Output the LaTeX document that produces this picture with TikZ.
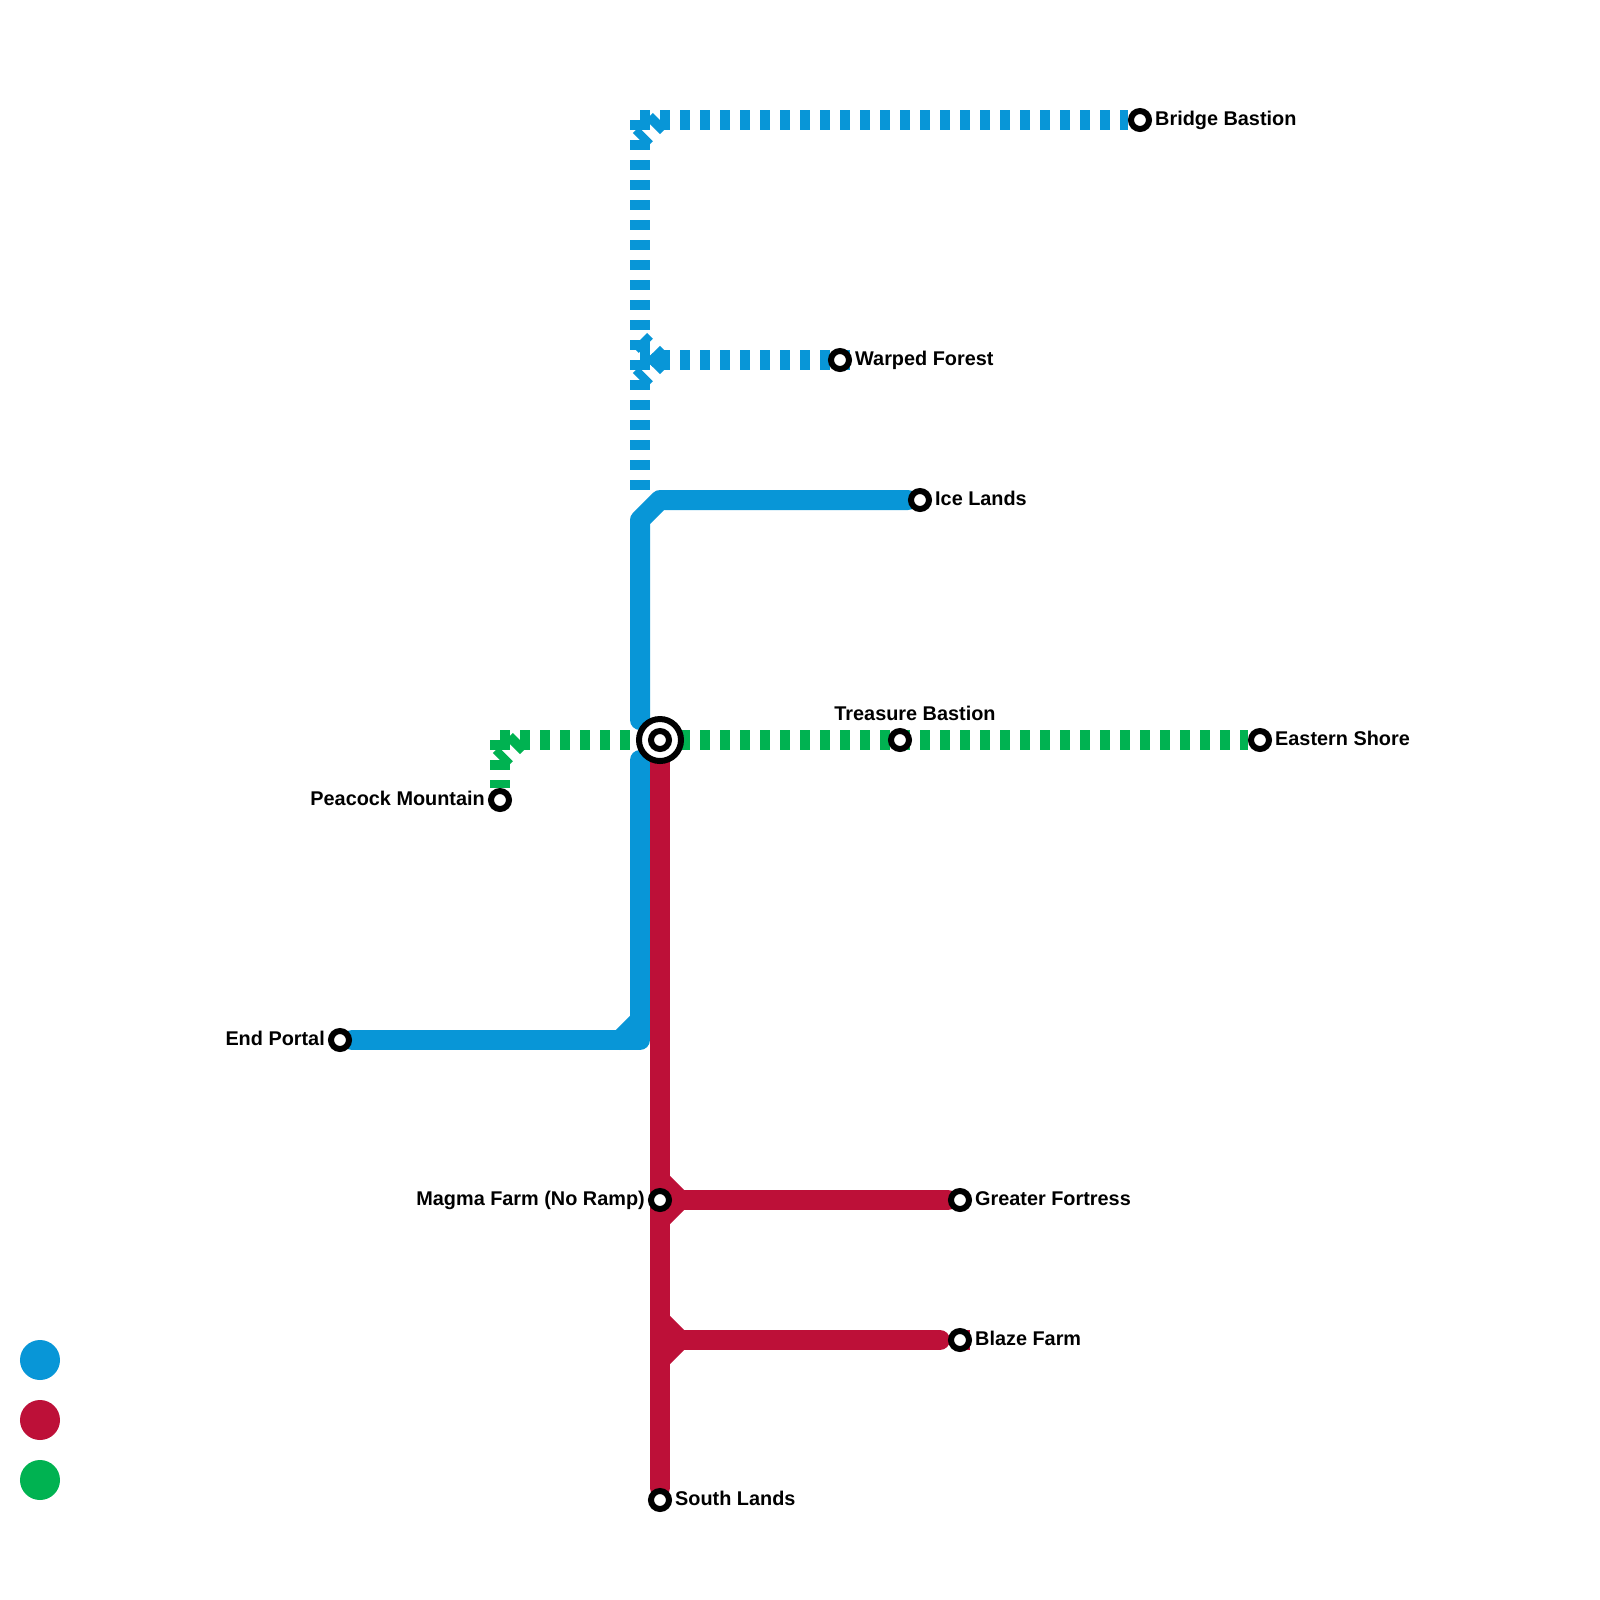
\documentclass[tikz,border=0pt]{standalone}
\usepackage{fontspec}
\setmainfont{Liberation Sans}
\usetikzlibrary{positioning, backgrounds}
\definecolor{lineblue}{HTML}{0896D7}
\definecolor{linered}{HTML}{BD1038}
\definecolor{linegreen}{HTML}{00B251}
\tikzset{
    metro/.style={line width=2mm, line cap=round, line join=round},
    dotline/.style={line width=2mm, dash pattern=on 1mm off 1mm},
    stn/.style={circle, draw=black, fill=white, line width=0.6mm, minimum size=1.8mm, inner sep=0pt},
    hub/.style={circle, draw=black, fill=white, line width=0.6mm, minimum size=4.2mm, inner sep=0pt},
    stnlabel/.style={inner sep=0pt, text height=1.4mm, text depth=0pt, yshift=0.15mm, font=\fontsize{5.65}{7}\selectfont\bfseries},
    keydot/.style={circle, minimum size=4mm, inner sep=0pt},
}

\begin{document}
\begin{tikzpicture}[x=0.2cm, y=-0.2cm, node distance=0.25mm]
    \useasboundingbox (0,0) rectangle (80,80);
    \foreach \name/\x/\y in {bridge/57/6, warped/42/18, ice/46/25, tbastion/45/37, eastern/63/37, peacock/25/40, endportal/17/52, magma/33/60, greater/48/60, blaze/48/67, south/33/75}
    \node (\name) [stn] at (\x,\y) {};
    \node (hubout) [hub] at (33,37) {};
    \node (hubin) [stn] at (33,37) {};

    \foreach \name/\txt in {bridge/Bridge Bastion, warped/Warped Forest, ice/Ice Lands, eastern/Eastern Shore, greater/Greater Fortress, blaze/Blaze Farm, south/South Lands}
    \node (\name label) [stnlabel, right=of \name] {\txt};
    \foreach \name/\txt in {peacock/Peacock Mountain, endportal/End Portal, magma/Magma Farm (No Ramp)}
    \node (\name label) [stnlabel, left=of \name] {\txt};
    \node (tbastion label) [stnlabel, above=0.55mm of tbastion, xshift=1.5mm] {Treasure Bastion};

    \node (keyblue) [keydot, fill=lineblue] at (2,68) {};
    \node (keyred) [keydot, fill=linered] at (2,71) {};
    \node (keygreen) [keydot, fill=linegreen] at (2,74) {};

    \coordinate (topcorner) at (32,6);
    \coordinate (topknee) at (33,6);
    \coordinate (topstub) at (32,7);
    \coordinate (dotend) at (32,25);
    \coordinate (warpedjct) at (32,18);
    \coordinate (warpedknee) at (33,18);
    \coordinate (warpedup) at (32,17);
    \coordinate (warpeddown) at (32,19);
    \coordinate (warpedend) at (43,18);
    \coordinate (icebend) at (33,25);
    \coordinate (icelow) at (32,26);
    \coordinate (upperend) at (32,36);
    \coordinate (lowerend) at (32,38);
    \coordinate (portalcorner) at (32,52);
    \coordinate (portalstubA) at (31,52);
    \coordinate (portalstubB) at (32,51);
    \coordinate (greencorner) at (25,37);
    \coordinate (greenknee) at (26,37);
    \coordinate (greenstub) at (25,38);
    \coordinate (magmaup) at (33,59);
    \coordinate (magmaknee) at (34,60);
    \coordinate (magmadown) at (33,61);
    \coordinate (blazejct) at (33,67);
    \coordinate (blazeup) at (33,66);
    \coordinate (blazeknee) at (34,67);
    \coordinate (blazedown) at (33,68);
    \coordinate (blazeend) at (47,67);
    \coordinate (blazetail) at (48.5,67);

    \begin{scope}[on background layer]
        \draw [dotline, color=lineblue] (topcorner) -- (bridge);
        \draw [dotline, color=lineblue] (topcorner) -- (dotend);
        \draw [dotline, color=lineblue] (topknee) -- (topstub);
        \draw [dotline, color=lineblue] (warpedjct) -- (warpedend);
        \draw [dotline, color=lineblue] (warpedknee) -- (warpedup);
        \draw [dotline, color=lineblue] (warpedknee) -- (warpeddown);
        \draw [metro, color=lineblue] (ice) -- (icebend) -- (icelow) -- (upperend);
        \draw [metro, color=lineblue] (endportal) -- (portalcorner) -- (lowerend);
        \draw [metro, color=lineblue] (portalstubA) -- (portalstubB);
        \draw [dotline, color=linegreen] (greencorner) -- (eastern);
        \draw [dotline, color=linegreen] (greencorner) -- (peacock);
        \draw [dotline, color=linegreen] (greenknee) -- (greenstub);
        \draw [metro, color=linered] (hubout.center) -- (south);
        \draw [metro, color=linered] (magma.center) -- (greater);
        \draw [metro, color=linered] (magmaup) -- (magmaknee) -- (magmadown);
        \draw [metro, color=linered] (blazejct) -- (blazeend);
        \draw [metro, color=linered] (blazeup) -- (blazeknee) -- (blazedown);
        \draw [line width=2mm, color=linered] (blaze.center) -- (blazetail);
    \end{scope}
\end{tikzpicture}
\end{document}
